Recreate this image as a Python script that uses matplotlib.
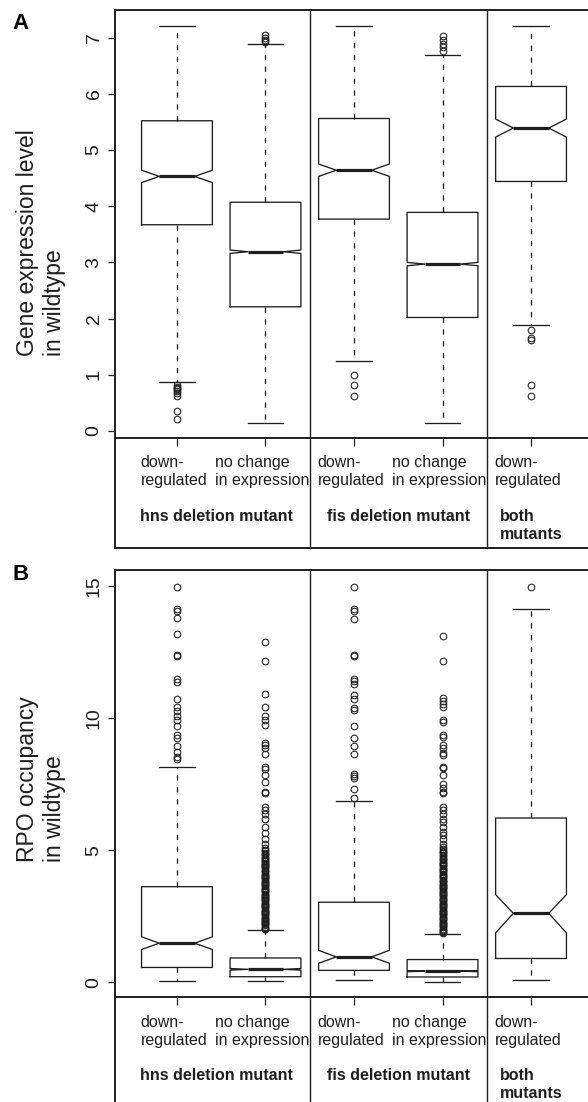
import matplotlib
matplotlib.use("Agg")
import matplotlib.pyplot as plt
import matplotlib.transforms as mtransforms
from matplotlib.lines import Line2D

plt.rcParams['font.family'] = ['Liberation Sans', 'DejaVu Sans']

# --- data -----------------------------------------------------------------
tick_labels = ["down-\nregulated", "no change\nin expression",
               "down-\nregulated", "no change\nin expression",
               "down-\nregulated"]
group_labels = ["hns deletion mutant", "fis deletion mutant", "both\nmutants"]
group_centers = [1.45, 3.5, 5.0]

# panel A: gene expression level in wildtype
a_whislo = [0.88, 0.15, 1.24, 0.15, 1.88]
a_q1 = [3.67, 2.21, 3.77, 2.02, 4.44]
a_med = [4.53, 3.19, 4.64, 2.97, 5.39]
a_q3 = [5.52, 4.07, 5.56, 3.89, 6.13]
a_whishi = [7.21, 6.88, 7.21, 6.69, 7.21]
a_cilo = [4.42, 3.16, 4.53, 2.94, 5.23]
a_cihi = [4.64, 3.22, 4.75, 3.00, 5.55]
a_fliers = [
    [0.82, 0.79, 0.77, 0.75, 0.72, 0.68, 0.63, 0.35, 0.22],
    [6.92, 6.96, 7.00, 7.04],
    [1.00, 0.81, 0.62],
    [6.76, 6.83, 6.89, 6.95, 7.02],
    [1.79, 1.66, 1.62, 0.81, 0.62],
]

# panel B: RPO occupancy in wildtype
b_whislo = [0.05, 0.04, 0.08, 0.00, 0.09]
b_q1 = [0.56, 0.21, 0.45, 0.20, 0.90]
b_med = [1.48, 0.49, 0.96, 0.42, 2.61]
b_q3 = [3.62, 0.92, 3.03, 0.86, 6.22]
b_whishi = [8.16, 1.98, 6.87, 1.83, 14.13]
b_cilo = [1.24, 0.46, 0.72, 0.40, 1.87]
b_cihi = [1.72, 0.52, 1.21, 0.44, 3.32]
b_fliers = [
    [14.95, 14.13, 14.05, 13.78, 13.20, 12.40, 12.35, 11.48, 11.36, 10.71,
     10.43, 10.28, 10.09, 9.92, 9.71, 9.38, 9.25, 8.95, 8.72, 8.53, 8.47],
    [12.90, 12.16, 10.90, 10.43, 10.10, 9.92, 9.76, 9.05, 8.97, 8.86, 8.66,
     8.16, 8.06, 7.84, 7.59, 7.21, 7.15, 6.63, 6.54, 6.39, 6.19, 5.88, 5.66,
     5.44, 5.25, 5.08, 5.02, 4.97, 4.90, 4.86, 4.82, 4.75, 4.71, 4.65, 4.61,
     4.58, 4.52, 4.49, 4.44, 4.41, 4.36, 4.31, 4.27, 4.22, 4.18, 4.11, 4.07,
     4.03, 3.98, 3.94, 3.90, 3.85, 3.81, 3.75, 3.72, 3.67, 3.63, 3.58, 3.54,
     3.49, 3.45, 3.41, 3.36, 3.32, 3.28, 3.23, 3.19, 3.14, 3.10, 3.06, 3.01,
     2.97, 2.93, 2.88, 2.84, 2.80, 2.75, 2.71, 2.67, 2.62, 2.58, 2.54, 2.49,
     2.45, 2.41, 2.36, 2.32, 2.28, 2.23, 2.19, 2.15, 2.11, 2.07, 2.03, 2.00],
    [14.95, 14.15, 14.07, 13.76, 12.40, 12.35, 11.48, 11.40, 11.31, 10.88,
     10.72, 10.40, 10.31, 9.72, 9.25, 8.95, 8.66, 7.90, 7.83, 7.75, 7.30, 6.97],
    [13.10, 12.15, 10.75, 10.64, 10.52, 10.43, 9.92, 9.85, 9.38, 9.28, 8.97,
     8.88, 8.69, 8.61, 8.16, 8.10, 7.84, 7.50, 7.36, 7.21, 7.15, 6.63, 6.52,
     6.39, 6.20, 6.07, 5.88, 5.69, 5.57, 5.44, 5.25, 5.13, 5.04, 4.98, 4.93,
     4.88, 4.83, 4.77, 4.72, 4.68, 4.63, 4.57, 4.53, 4.48, 4.44, 4.39, 4.34,
     4.29, 4.25, 4.20, 4.16, 4.11, 4.06, 4.02, 3.97, 3.93, 3.88, 3.84, 3.79,
     3.74, 3.70, 3.65, 3.61, 3.56, 3.52, 3.47, 3.43, 3.38, 3.34, 3.29, 3.25,
     3.20, 3.16, 3.11, 3.07, 3.02, 2.98, 2.93, 2.89, 2.84, 2.80, 2.75, 2.71,
     2.66, 2.62, 2.57, 2.53, 2.48, 2.44, 2.39, 2.35, 2.30, 2.26, 2.21, 2.17,
     2.12, 2.08, 2.03, 1.99, 1.94, 1.90, 1.86],
    [14.95],
]

INK = "#1e1e1e"


def make_stats(whislo, q1, med, q3, whishi, cilo, cihi, fliers):
    stats = []
    for i in range(len(med)):
        stats.append(dict(whislo=whislo[i], q1=q1[i], med=med[i], q3=q3[i],
                          whishi=whishi[i], cilo=cilo[i], cihi=cihi[i],
                          fliers=fliers[i]))
    return stats


def draw_panel(ax, stats, ylim, yticks, ylabel, ylabel_y, letter, letter_y):
    ax.bxp(stats, positions=range(1, 6), widths=0.8, shownotches=True,
           boxprops=dict(color=INK, linewidth=0.95),
           whiskerprops=dict(color=INK, linewidth=0.95, linestyle=(0, (4, 5))),
           capprops=dict(color=INK, linewidth=0.95),
           medianprops=dict(color=INK, linewidth=2.3, solid_capstyle='butt'),
           flierprops=dict(marker='o', markerfacecolor='none',
                           markeredgecolor=INK, markersize=4.8,
                           markeredgewidth=0.75))
    ax.set_xlim(0.3, 5.7)
    ax.set_ylim(*ylim)
    ax.set_yticks(yticks)
    ax.set_yticklabels([str(t) for t in yticks], rotation=90, va='center',
                       fontsize=14, color=INK)
    ax.set_xticks(range(1, 6))
    ax.set_xticklabels(tick_labels, fontsize=11.5, color=INK,
                       multialignment='left', linespacing=1.25)
    ax.tick_params(axis='y', length=5, width=0.9, pad=4, color=INK)
    ax.tick_params(axis='x', length=6, width=0.9, pad=6.5, color=INK)
    # labels sit a little left of their ticks in the original
    shift = mtransforms.ScaledTranslation(-3 / 100, 0, ax.figure.dpi_scale_trans)
    for lab in ax.get_xticklabels():
        lab.set_transform(lab.get_transform() + shift)
    for sp in ax.spines.values():
        sp.set_linewidth(1.4)
        sp.set_color(INK)

    # label box below the plotting region
    box_bottom = -0.2563
    trans = mtransforms.blended_transform_factory(ax.transData, ax.transAxes)
    for xs in (2.5, 4.5):
        ax.add_line(Line2D([xs, xs], [box_bottom, 1.0], transform=trans,
                           color=INK, linewidth=1.0, clip_on=False))
    ax.add_line(Line2D([0, 0], [box_bottom, 0], transform=ax.transAxes,
                       color=INK, linewidth=1.4, clip_on=False))
    ax.add_line(Line2D([1, 1], [box_bottom, 0], transform=ax.transAxes,
                       color=INK, linewidth=1.4, clip_on=False))
    ax.add_line(Line2D([0, 1], [box_bottom, box_bottom], transform=ax.transAxes,
                       color=INK, linewidth=1.4, clip_on=False))

    for xc, lab in zip(group_centers, group_labels):
        ax.text(xc, -0.166, lab, transform=trans, ha='center', va='top',
                multialignment='left', fontsize=11.5, fontweight='bold',
                color=INK, linespacing=1.25)

    ax.text(-0.155, ylabel_y, ylabel, transform=ax.transAxes, rotation=90,
            ha='center', va='bottom', multialignment='left', fontsize=16.5,
            color=INK, linespacing=1.2)
    ax.text(-0.2155, letter_y, letter, transform=ax.transAxes, ha='left',
            va='top', fontsize=16, fontweight='bold', color='black')


fig = plt.figure(figsize=(5.88, 11.02), dpi=100)
ax_a = fig.add_axes([0.1956, 0.6025, 0.8129, 0.3884])
ax_b = fig.add_axes([0.1956, 0.0950, 0.8129, 0.3877])

draw_panel(ax_a, make_stats(a_whislo, a_q1, a_med, a_q3, a_whishi,
                            a_cilo, a_cihi, a_fliers),
           (-0.125, 7.49), [0, 1, 2, 3, 4, 5, 6, 7],
           "Gene expression level\nin wildtype", 0.192, "A", 0.993)
draw_panel(ax_b, make_stats(b_whislo, b_q1, b_med, b_q3, b_whishi,
                            b_cilo, b_cihi, b_fliers),
           (-0.57, 15.61), [0, 5, 10, 15],
           "RPO occupancy\nin wildtype", 0.316, "B", 1.014)

fig.savefig("out.png", dpi=100)
